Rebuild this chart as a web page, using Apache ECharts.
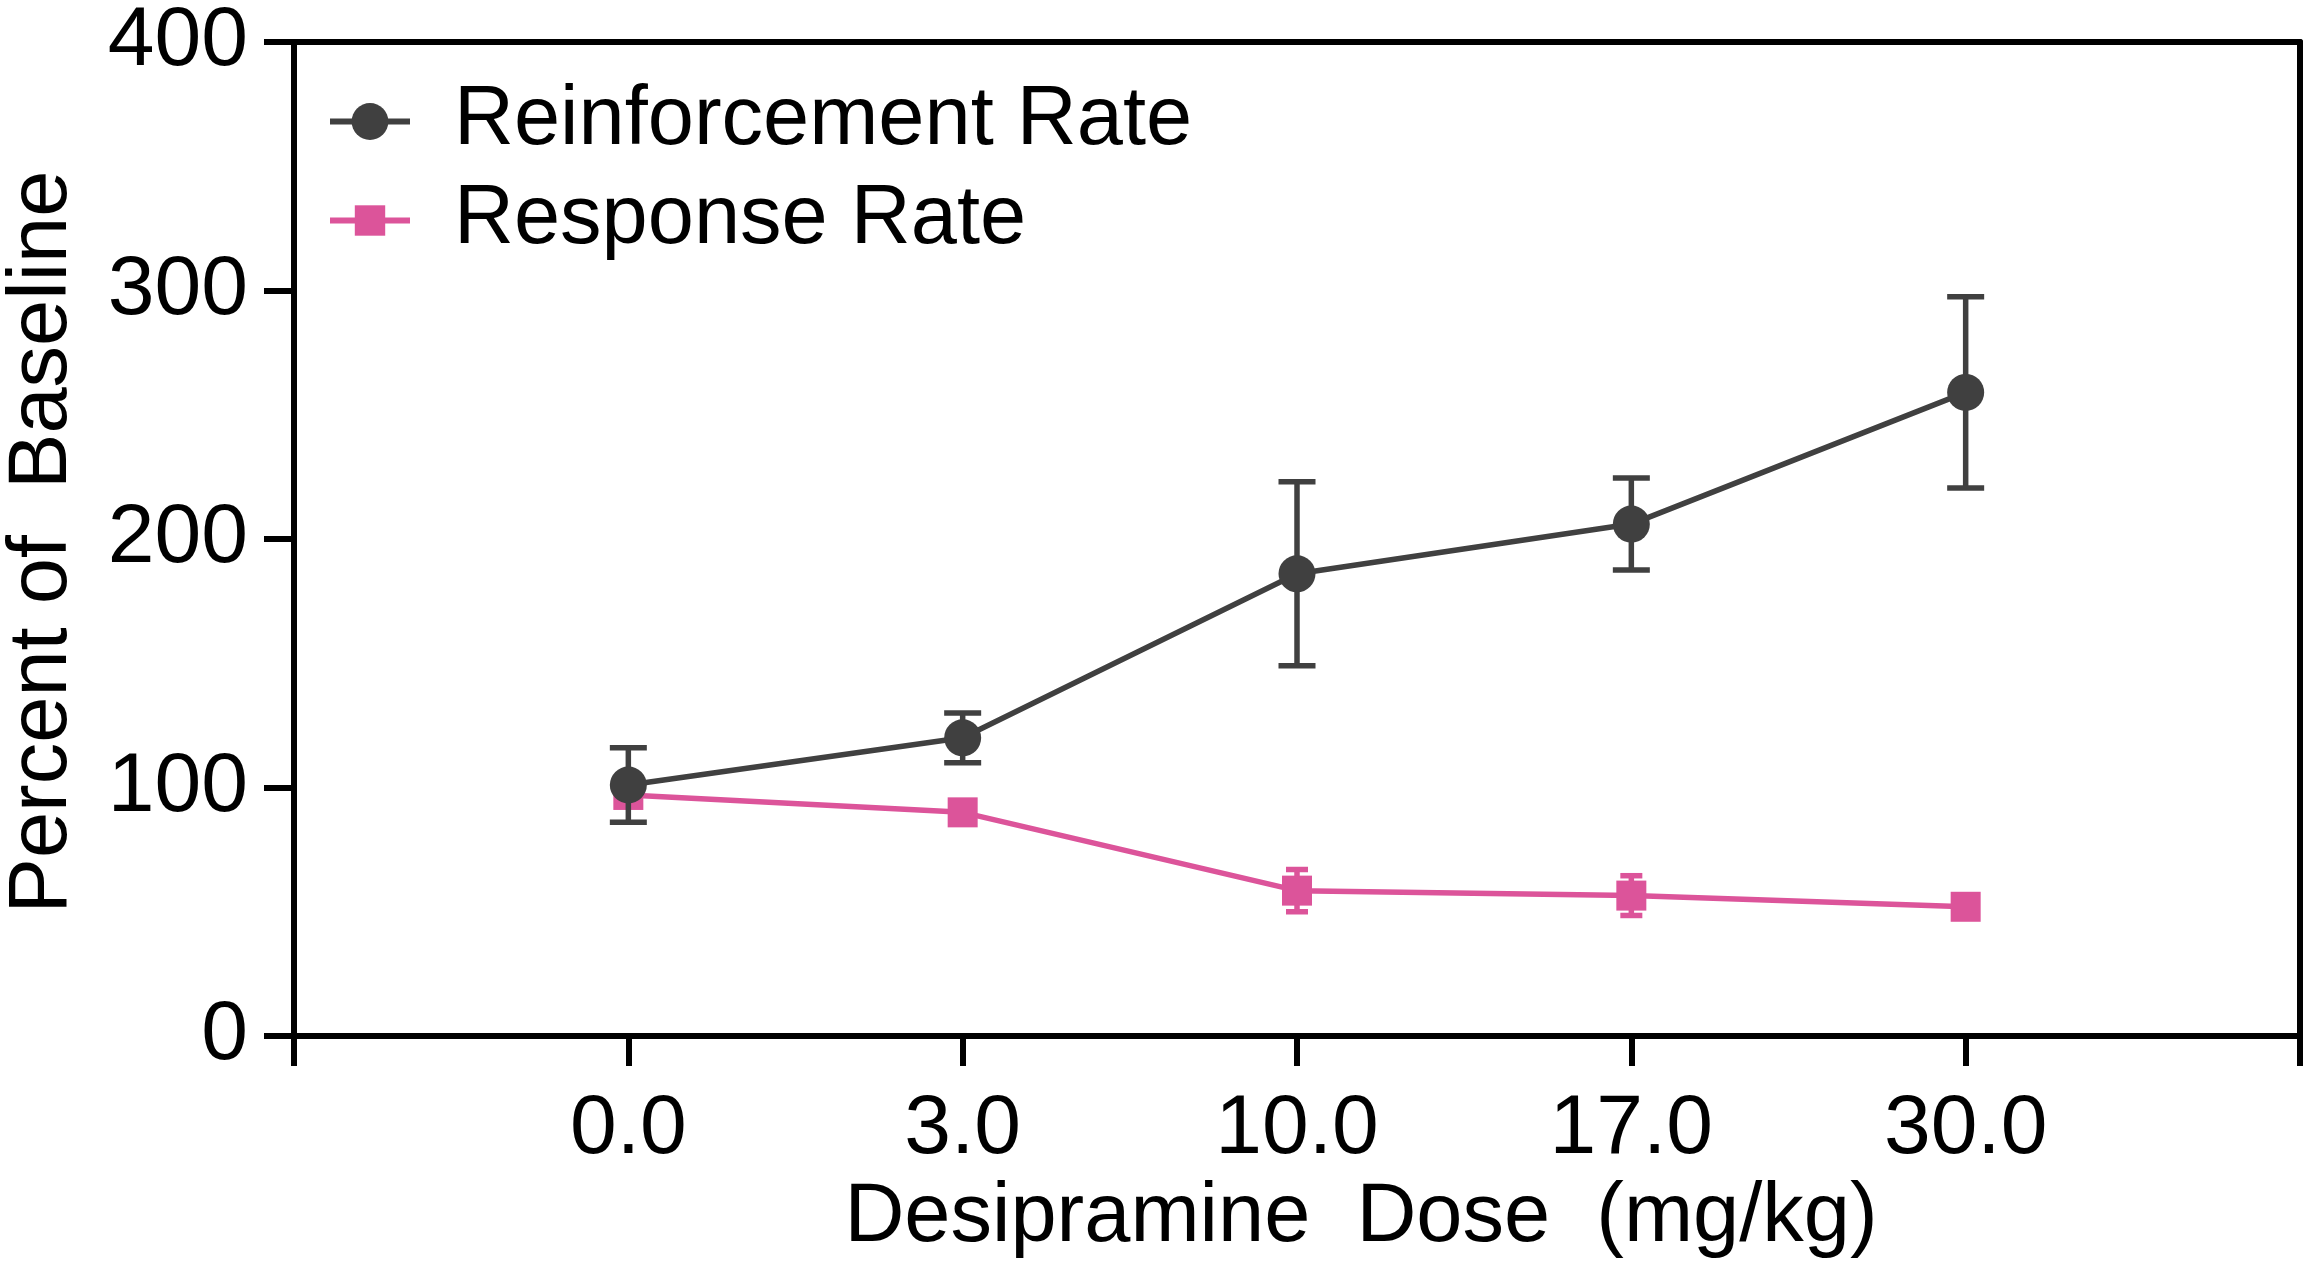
<!DOCTYPE html>
<html>
<head>
<meta charset="utf-8">
<style>
  html, body { margin: 0; padding: 0; background: #fff; }
  #chart { width: 2305px; height: 1274px; }
</style>
<script src="https://cdn.jsdelivr.net/npm/echarts@6/dist/echarts.min.js"></script>
</head>
<body>
<div id="chart"></div>
<script>
// ---- data ----
const categories = ['0.0', '3.0', '10.0', '17.0', '30.0'];
const reinforcementRate = [101, 120, 186, 206, 259];
const reinforcementErr = [15, 10, 37, 18.5, 38.5];
const responseRate = [97, 90, 58.5, 56.5, 52];
const responseErr = [3, 3, 8.5, 8, 3];
const yTicks = [0, 100, 200, 300, 400];
const xTitle = 'Desipramine  Dose  (mg/kg)';
const yTitle = 'Percent of  Baseline';
const seriesNames = ['Reinforcement Rate', 'Response Rate'];

// ---- styles ----
const FONT = '"Liberation Sans", Arial, Helvetica, sans-serif';
const DARK = '#404040';
const PINK = '#dc549a';

const chart = echarts.init(document.getElementById('chart'), null, { renderer: 'canvas' });

function pts(vals) { return vals.map((v, i) => [i, v]); }
function errPts(vals, errs) { return vals.map((v, i) => [i, v, errs[i]]); }

function errorBar(color, capW, lw) {
  return function (params, api) {
    const x = api.value(0), y = api.value(1), e = api.value(2);
    const top = api.coord([x, y + e]);
    const bot = api.coord([x, y - e]);
    const h = capW / 2;
    const style = { stroke: color, lineWidth: lw, fill: null };
    return {
      type: 'group',
      children: [
        { type: 'line', shape: { x1: top[0], y1: top[1], x2: bot[0], y2: bot[1] }, style },
        { type: 'line', shape: { x1: top[0] - h, y1: top[1], x2: top[0] + h, y2: top[1] }, style },
        { type: 'line', shape: { x1: bot[0] - h, y1: bot[1], x2: bot[0] + h, y2: bot[1] }, style }
      ]
    };
  };
}

const axisLine = { show: true, onZero: false, lineStyle: { color: '#000', width: 6 } };

const option = {
  animation: false,
  backgroundColor: '#fff',
  grid: { left: 294, right: 5, top: 42, bottom: 238, containLabel: false },
  xAxis: [
    {
      type: 'value', min: -1, max: 5, interval: 1,
      axisLine: axisLine,
      axisTick: { show: true, length: 30, lineStyle: { color: '#000', width: 6 } },
      axisLabel: {
        margin: 52, fontSize: 84, fontFamily: FONT, color: '#000',
        formatter: v => (categories[v] !== undefined ? categories[v] : '')
      },
      splitLine: { show: false }
    },
    {
      type: 'value', position: 'top', min: -1, max: 5,
      axisLine: axisLine, axisTick: { show: false }, axisLabel: { show: false }, splitLine: { show: false }
    }
  ],
  yAxis: [
    {
      type: 'value', min: yTicks[0], max: yTicks[yTicks.length - 1], interval: 100,
      axisLine: axisLine,
      axisTick: { show: true, length: 30, lineStyle: { color: '#000', width: 6 } },
      axisLabel: { margin: 46, fontSize: 84, fontFamily: FONT, color: '#000' },
      splitLine: { show: false }
    },
    {
      type: 'value', position: 'right', min: 0, max: 400,
      axisLine: axisLine, axisTick: { show: false }, axisLabel: { show: false }, splitLine: { show: false }
    }
  ],
  legend: [
    {
      data: [seriesNames[0]], left: 327, top: 80, padding: 0,
      itemWidth: 80, itemHeight: 46,
      lineStyle: { width: 6 },
      textStyle: { fontSize: 83, fontFamily: FONT, color: '#000', padding: [0, 0, 16, 39] }
    },
    {
      data: [seriesNames[1]], left: 327, top: 179, padding: 0,
      itemWidth: 80, itemHeight: 38,
      lineStyle: { width: 6 },
      textStyle: { fontSize: 83, fontFamily: FONT, color: '#000', padding: [0, 0, 16, 39] }
    }
  ],
  graphic: [
    {
      type: 'text', x: 1361, y: 1218,
      style: { text: xTitle, font: '83px ' + FONT, fill: '#000', align: 'center', verticalAlign: 'middle' }
    },
    {
      type: 'text', x: 43, y: 542, rotation: Math.PI / 2,
      style: { text: yTitle, font: '83px ' + FONT, fill: '#000', align: 'center', verticalAlign: 'middle' }
    }
  ],
  series: [
    {
      name: seriesNames[1] + ' error', type: 'custom', z: 1,
      renderItem: errorBar(PINK, 22, 5.5),
      data: errPts(responseRate, responseErr), silent: true
    },
    {
      name: seriesNames[1], type: 'line', z: 2,
      data: pts(responseRate),
      symbol: 'rect', symbolSize: 30,
      lineStyle: { color: PINK, width: 5.5 },
      itemStyle: { color: PINK }
    },
    {
      name: seriesNames[0] + ' error', type: 'custom', z: 3,
      renderItem: errorBar(DARK, 37, 5.5),
      data: errPts(reinforcementRate, reinforcementErr), silent: true
    },
    {
      name: seriesNames[0], type: 'line', z: 4,
      data: pts(reinforcementRate),
      symbol: 'circle', symbolSize: 37,
      lineStyle: { color: DARK, width: 5.5 },
      itemStyle: { color: DARK }
    }
  ]
};

chart.setOption(option);
</script>
</body>
</html>
